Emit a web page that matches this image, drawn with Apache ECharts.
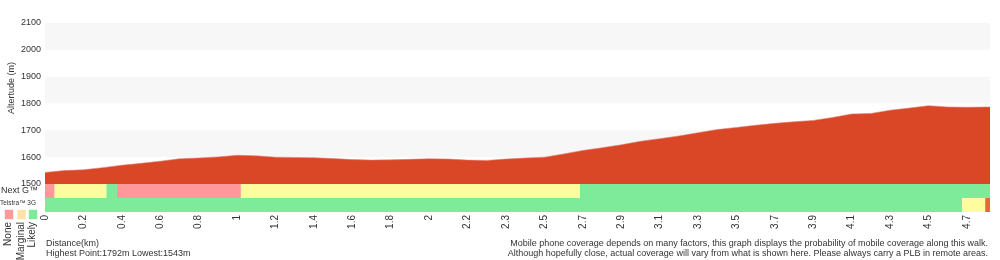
<!DOCTYPE html>
<html>
<head>
<meta charset="utf-8">
<script src="https://cdn.jsdelivr.net/npm/echarts@6/dist/echarts.min.js"></script>
<style>html,body{margin:0;padding:0;background:#fff}#c{width:1000px;height:260px}</style>
</head>
<body>
<div id="c"></div>
<script>
// Distance tick labels (km), one per two samples
const distLabels = ['0','0.2','0.4','0.6','0.8','1','1.2','1.4','1.6','1.8','2','2.2','2.3','2.5','2.7','2.9','3.1','3.3','3.5','3.7','3.9','4.1','4.3','4.5','4.7'];
// Elevation (m) per sample index
const elevation = [1543,1550,1553,1561,1570,1577,1585,1594,1597,1601,1607,1605,1600,1599,1598,1595,1591,1589,1590,1592,1594,1593,1589,1588,1593,1597,1600,1612,1625,1635,1646,1659,1669,1679,1691,1703,1711,1719,1726,1732,1737,1748,1761,1763,1775,1783,1792,1787,1786,1787];
const sampleEnd = 49.2; // walk end, in sample units
const yTicks = [1500, 2100, 100];
const coverageRows = ['Telstra™ 3G', 'Next G™'];
const levels = ['None', 'Marginal', 'Likely', 'Unknown'];
// [start sample, end sample, level]
const nextG = [[0,0.5,0],[0.5,3.2,1],[3.2,3.75,2],[3.75,10.2,0],[10.2,27.85,1],[27.85,49.2,2]];
const telstra3G = [[0,47.75,2],[47.75,48.95,1],[48.95,49.2,3]];
const highest = 1792, lowest = 1543;

const levelColors = ['#ff9999', '#fffca0', '#7deb99', '#e8683a'];
const legendColors = ['#ff9999', '#ffe2a6', '#7deb99'];
const FONT = 'Liberation Sans';
const TXT = '#333';

const covData = [];
telstra3G.forEach(s => covData.push([s[0], s[1], 0, s[2]]));
nextG.forEach(s => covData.push([s[0], s[1], 1, s[2]]));

const elevData = elevation.map((v, i) => [i, v]);
elevData.push([sampleEnd, elevation[elevation.length - 1]]);

const chart = echarts.init(document.getElementById('c'), null, {renderer: 'canvas'});
const legendGraphics = [];
levels.slice(0, 3).forEach((name, k) => {
  legendGraphics.push({type: 'rect', left: [4, 16.5, 28][k], top: 209, shape: {width: 9, height: 10},
    style: {fill: legendColors[k], stroke: 'rgba(255,255,255,0.6)', lineWidth: 1}});
  legendGraphics.push({type: 'text', x: [8.5, 21, 32.5][k], y: 222, rotation: Math.PI / 2,
    style: {text: name, fill: TXT, font: '10px ' + FONT, textAlign: 'right', textVerticalAlign: 'middle'}});
});

chart.setOption({
  animation: false,
  grid: [
    {left: 45, right: 10, top: 23, height: 161, containLabel: false, outerBoundsMode: 'none'},
    {left: 45, right: 10, top: 184, height: 28, containLabel: false, outerBoundsMode: 'none'}
  ],
  xAxis: [
    {gridIndex: 0, type: 'value', min: 0, max: sampleEnd, show: false},
    {gridIndex: 1, type: 'value', min: 0, max: sampleEnd, interval: 2,
      axisLine: {show: false}, axisTick: {show: false}, splitLine: {show: false},
      axisLabel: {rotate: 90, margin: 3, color: TXT, fontFamily: FONT, fontSize: 10, showMaxLabel: false,
        formatter: v => (v % 2 === 0 && distLabels[v / 2] !== undefined) ? distLabels[v / 2] : ''}}
  ],
  yAxis: [
    {gridIndex: 0, type: 'value', min: yTicks[0], max: yTicks[1], interval: yTicks[2],
      axisLine: {show: false}, axisTick: {show: false}, splitLine: {show: false},
      splitArea: {show: true, areaStyle: {color: ['#ffffff', '#f7f7f7']}},
      axisLabel: {margin: 4, color: TXT, fontFamily: FONT, fontSize: 9, formatter: v => String(v)}},
    {gridIndex: 1, type: 'category', data: coverageRows, show: false}
  ],
  series: [
    {type: 'line', xAxisIndex: 0, yAxisIndex: 0, data: elevData, symbol: 'none', smooth: false,
      lineStyle: {color: 'rgba(230,120,110,0.55)', width: 1},
      areaStyle: {color: '#d94727', opacity: 1, origin: 'start'}},
    {type: 'custom', xAxisIndex: 1, yAxisIndex: 1, data: covData,
      renderItem: (params, api) => {
        const p0 = api.coord([api.value(0), api.value(2)]);
        const p1 = api.coord([api.value(1), api.value(2)]);
        const h = api.size([0, 1])[1];
        return {type: 'rect', shape: {x: p0[0], y: p0[1] - h / 2, width: p1[0] - p0[0], height: h},
          style: {fill: levelColors[api.value(3)]}};
      }}
  ],
  graphic: [
    {type: 'text', x: 12, y: 88, rotation: Math.PI / 2,
      style: {text: 'Altertude (m)', fill: TXT, font: '9px ' + FONT, textAlign: 'center', textVerticalAlign: 'middle'}},
    {type: 'text', x: 38, y: 191, style: {text: coverageRows[1], fill: TXT, font: '9px ' + FONT, textAlign: 'right', textVerticalAlign: 'middle'}},
    {type: 'text', x: 36, y: 203, style: {text: coverageRows[0], fill: TXT, font: '6.5px ' + FONT, textAlign: 'right', textVerticalAlign: 'middle'}},
    {type: 'text', x: 46, y: 239, style: {text: 'Distance(km)', fill: TXT, font: '9px ' + FONT}},
    {type: 'text', x: 46, y: 249, style: {text: 'Highest Point:' + highest + 'm Lowest:' + lowest + 'm', fill: TXT, font: '9px ' + FONT}},
    {type: 'text', x: 988, y: 239, style: {text: 'Mobile phone coverage depends on many factors, this graph displays the probability of mobile coverage along this walk.', fill: TXT, font: '9px ' + FONT, textAlign: 'right'}},
    {type: 'text', x: 988, y: 249, style: {text: 'Although hopefully close, actual coverage will vary from what is shown here. Please always carry a PLB in remote areas.', fill: TXT, font: '9px ' + FONT, textAlign: 'right'}}
  ].concat(legendGraphics)
});
</script>
</body>
</html>
